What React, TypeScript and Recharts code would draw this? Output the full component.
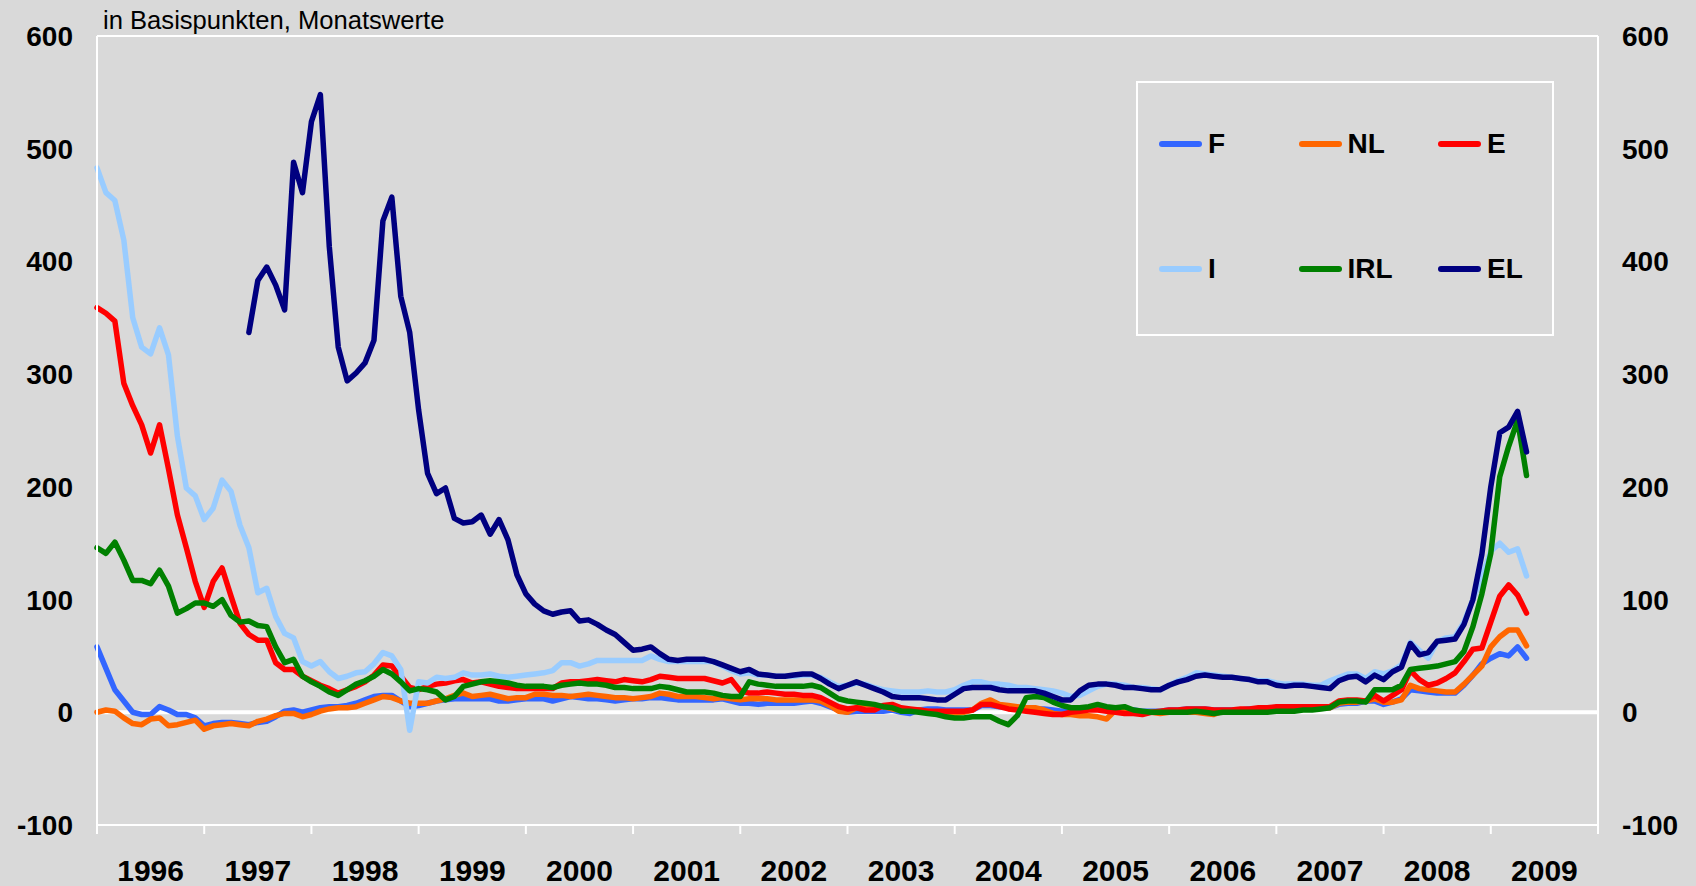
import { LineChart, Line, XAxis, YAxis, CartesianGrid, ReferenceLine } from 'recharts';

// monthly values, Jan 1996 .. May 2009 (161 months)
const F = [
  58, 39, 20, 10, 0, -2, -2, 5, 2, -2,
  -2, -5, -12, -10, -9, -9, -10, -11, -9, -8,
  -4, 1, 2, 0, 2, 4, 5, 5, 6, 8,
  11, 14, 15, 15, 10, 5, 6, 8, 10, 11,
  12, 12, 12, 12, 12, 10, 10, 11, 12, 12,
  12, 10, 12, 14, 13, 12, 12, 11, 10, 11,
  12, 12, 13, 13, 12, 11, 11, 11, 11, 11,
  12, 10, 8, 8, 7, 8, 8, 8, 8, 9,
  10, 8, 5, 2, 0, 1, 1, 1, 1, 2,
  0, -1, 2, 3, 3, 2, 2, 2, 2, 6,
  6, 5, 5, 4, 4, 3, 3, 2, 1, 1,
  2, 3, 3, 3, 3, 2, 2, 1, 1, 1,
  2, 2, 3, 3, 3, 2, 2, 2, 2, 3,
  3, 3, 4, 4, 4, 4, 4, 4, 4, 7,
  8, 8, 10, 10, 7, 9, 12, 20, 19, 18,
  17, 17, 17, 24, 33, 43, 48, 52, 50, 58,
  48,
];

const NL = [
  0, 2, 1, -5, -10, -11, -6, -5, -12, -11,
  -9, -7, -15, -12, -11, -10, -11, -12, -8, -6,
  -3, -1, -1, -4, -2, 1, 3, 4, 4, 5,
  8, 11, 14, 13, 10, 8, 8, 8, 10, 12,
  15, 17, 14, 15, 16, 14, 12, 13, 13, 16,
  16, 15, 15, 14, 15, 16, 15, 14, 13, 13,
  12, 13, 14, 17, 16, 14, 14, 14, 13, 12,
  13, 12, 11, 12, 12, 12, 11, 11, 11, 11,
  11, 10, 6, 1, 0, 4, 7, 6, 5, 3,
  2, 2, 2, 1, 0, -1, -1, 0, 2, 8,
  11, 7, 6, 5, 4, 4, 2, -1, -2, -2,
  -3, -3, -4, -6, 2, 1, 1, 0, 0, -1,
  0, 0, 0, 0, -1, -2, 1, 1, 1, 0,
  1, 1, 2, 2, 4, 4, 4, 4, 4, 8,
  9, 9, 10, 12, 9, 9, 11, 24, 21, 20,
  19, 18, 18, 25, 33, 41, 58, 67, 73, 73,
  59,
];

const E = [
  359, 354, 347, 292, 272, 255, 230, 255, 216, 175,
  146, 116, 93, 116, 128, 103, 79, 69, 64, 64,
  44, 38, 38, 32, 28, 24, 21, 17, 20, 23,
  27, 33, 42, 41, 32, 22, 20, 23, 25, 26,
  28, 29, 26, 27, 25, 23, 22, 21, 21, 21,
  21, 21, 26, 27, 27, 28, 29, 28, 27, 29,
  28, 27, 29, 32, 31, 30, 30, 30, 30, 28,
  26, 29, 19, 17, 17, 18, 17, 16, 16, 15,
  15, 13, 9, 5, 3, 4, 2, 2, 6, 7,
  4, 3, 2, 1, 1, 1, 1, 1, 2, 7,
  7, 5, 3, 2, 1, 0, -1, -2, -2, 0,
  1, 2, 2, 1, 0, -1, -1, -2, 0, 1,
  2, 2, 3, 3, 3, 2, 2, 2, 3, 3,
  4, 4, 5, 5, 5, 5, 5, 5, 5, 10,
  11, 11, 10, 15, 10, 15, 20, 37, 29, 24,
  26, 30, 35, 45, 56, 57, 80, 103, 113, 104,
  88,
];

const I = [
  483, 461, 454, 419, 350, 324, 318, 341, 317, 245,
  199, 192, 171, 181, 206, 196, 166, 146, 106, 110,
  85, 70, 66, 45, 41, 45, 36, 30, 32, 35,
  36, 43, 53, 50, 38, -16, 27, 26, 31, 30,
  31, 35, 33, 33, 34, 32, 31, 32, 33, 34,
  35, 37, 44, 44, 41, 43, 46, 46, 46, 46,
  46, 46, 50, 47, 45, 45, 45, 45, 45, 45,
  41, 37, 34, 35, 33, 33, 32, 32, 32, 33,
  33, 31, 27, 23, 24, 26, 25, 22, 20, 19,
  18, 18, 18, 19, 18, 18, 20, 24, 27, 27,
  25, 25, 24, 22, 22, 21, 20, 19, 17, 14,
  15, 19, 23, 25, 25, 24, 22, 22, 21, 20,
  24, 28, 31, 35, 34, 33, 32, 31, 30, 29,
  28, 28, 26, 25, 25, 25, 24, 24, 28, 31,
  34, 34, 30, 36, 34, 37, 42, 62, 55, 48,
  63, 66, 67, 80, 100, 120, 143, 150, 142, 145,
  121,
];

const IRL = [
  146, 141, 151, 135, 117, 117, 114, 126, 112, 88,
  92, 97, 97, 94, 100, 86, 80, 81, 77, 76,
  58, 44, 47, 32, 27, 23, 18, 15, 20, 25,
  28, 32, 38, 34, 27, 19, 21, 20, 18, 11,
  14, 23, 25, 27, 28, 27, 26, 24, 23, 23,
  23, 22, 24, 25, 26, 25, 25, 24, 22, 22,
  21, 21, 21, 23, 22, 20, 18, 18, 18, 17,
  15, 14, 14, 27, 25, 24, 23, 23, 23, 23,
  24, 22, 17, 12, 10, 9, 8, 7, 5, 4,
  1, 1, 0, -1, -2, -4, -5, -5, -4, -4,
  -4, -8, -11, -3, 13, 14, 13, 9, 6, 4,
  4, 5, 7, 5, 4, 5, 2, 1, 0, 0,
  0, 0, 0, 1, 0, -1, 0, 0, 0, 0,
  0, 0, 1, 1, 1, 2, 2, 3, 4, 9,
  10, 10, 9, 20, 20, 20, 24, 38, 39, 40,
  41, 43, 45, 54, 76, 105, 141, 209, 236, 259,
  210,
];

// EL starts in June 1997
const EL: (number | null)[] = Array(17).fill(null).concat([
  337, 383, 395, 379, 357, 488, 461, 524, 548, 413,
  324, 294, 301, 310, 330, 436, 457, 369, 337, 268,
  212, 194, 199, 172, 168, 169, 175, 158, 171, 153,
  122, 105, 96, 90, 87, 89, 90, 81, 82, 78,
  73, 69, 62, 55, 56, 58, 52, 47, 46, 47,
  47, 47, 45, 42, 39, 36, 38, 34, 33, 32,
  32, 33, 34, 34, 30, 25, 21, 24, 27, 24,
  21, 18, 14, 13, 13, 13, 12, 11, 11, 16,
  21, 22, 22, 22, 20, 19, 19, 19, 19, 17,
  14, 11, 11, 19, 24, 25, 25, 24, 22, 22,
  21, 20, 20, 24, 27, 29, 32, 33, 32, 31,
  31, 30, 29, 27, 27, 24, 23, 24, 24, 23,
  22, 21, 28, 31, 32, 27, 33, 29, 36, 40,
  61, 51, 53, 63, 64, 65, 78, 100, 140, 200,
  248, 253, 267, 231,
]);

const YEARS = ['1996', '1997', '1998', '1999', '2000', '2001', '2002', '2003', '2004', '2005', '2006', '2007', '2008', '2009'];
const Y_TICKS = [-100, 0, 100, 200, 300, 400, 500, 600];

const SERIES = [
  { key: 'F', color: '#3366FF', values: F },
  { key: 'NL', color: '#FF6600', values: NL },
  { key: 'E', color: '#FF0000', values: E },
  { key: 'I', color: '#99CCFF', values: I },
  { key: 'IRL', color: '#008000', values: IRL },
  { key: 'EL', color: '#000080', values: EL },
];

const data = F.map((_, m) => {
  const row: Record<string, number | null> = { m };
  SERIES.forEach((s) => { row[s.key] = s.values[m] ?? null; });
  return row;
});

const W = 1696;
const H = 886;
const LEFT_W = 97;
const RIGHT_W = 98;
const BG = '#D9D9D9';
const FONT = '"Liberation Sans", Arial, sans-serif';
const PLOT_W = W - LEFT_W - RIGHT_W;
const YEAR_PX = PLOT_W / YEARS.length;
const X_TICKS = Array.from({ length: YEARS.length + 1 }, (_, i) => i * 12);

const YearTick = (props: any) => {
  const { x, y, payload } = props;
  const label = YEARS[Math.round(payload.value / 12)];
  if (!label) return <g />;
  return (
    <text x={x + YEAR_PX / 2} y={y} dy="0.71em" textAnchor="middle" fill="#000"
      fontSize={30} fontWeight="bold" fontFamily={FONT}>
      {label}
    </text>
  );
};

const yTick = { fill: '#000', fontSize: 28, fontWeight: 'bold', fontFamily: FONT };

const Legend = () => (
  <div style={{
    position: 'absolute', left: 1136, top: 81, width: 418, height: 255,
    border: '2px solid #fff', boxSizing: 'border-box', background: BG,
  }}>
    {SERIES.map((s, i) => {
      const col = i % 3;
      const row = Math.floor(i / 3);
      const lx = 21 + col * 139.5;
      const ly = 61 + row * 125;
      return (
        <div key={s.key}>
          <div style={{ position: 'absolute', left: lx, top: ly - 3, width: 43, height: 6, borderRadius: 3, background: s.color }} />
          <div style={{
            position: 'absolute', left: lx + 49, top: ly - 16, lineHeight: '32px',
            fontFamily: FONT, fontWeight: 'bold', fontSize: 28, color: '#000',
          }}>{s.key}</div>
        </div>
      );
    })}
  </div>
);

export default function App() {
  return (
    <div style={{ position: 'absolute', left: 0, top: 0, width: W, height: H, background: BG, overflow: 'hidden' }}>
      <div style={{ position: 'absolute', left: 103, top: 6, fontFamily: FONT, fontSize: 25.6, lineHeight: '28px', color: '#000' }}>
        in Basispunkten, Monatswerte
      </div>
      <LineChart width={W} height={H} data={data} margin={{ top: 36, right: 0, bottom: 0, left: 0 }}>
        <CartesianGrid vertical={false} stroke="#fff" strokeWidth={2} />
        <XAxis dataKey="m" type="number" domain={[0, 168]} ticks={X_TICKS} interval={0}
          height={61} tick={<YearTick />} tickSize={9} tickMargin={26}
          axisLine={{ stroke: '#fff', strokeWidth: 2 }} tickLine={{ stroke: '#fff', strokeWidth: 2 }} />
        <YAxis yAxisId="left" domain={[-100, 600]} ticks={Y_TICKS} interval={0} allowDataOverflow
          width={LEFT_W} tick={yTick} tickLine={false} tickSize={0} tickMargin={24}
          axisLine={{ stroke: '#fff', strokeWidth: 2 }} />
        <YAxis yAxisId="right" orientation="right" domain={[-100, 600]} ticks={Y_TICKS} interval={0} allowDataOverflow
          width={RIGHT_W} tick={yTick} tickLine={false} tickSize={0} tickMargin={24}
          axisLine={{ stroke: '#fff', strokeWidth: 2 }} />
        <ReferenceLine yAxisId="left" y={0} stroke="#fff" strokeWidth={4} />
        {SERIES.map((s) => (
          <Line key={s.key} yAxisId="left" dataKey={s.key} type="linear" stroke={s.color}
            strokeWidth={5.5} strokeLinejoin="round" strokeLinecap="round"
            dot={false} activeDot={false} connectNulls={false} isAnimationActive={false} />
        ))}
      </LineChart>
      <Legend />
    </div>
  );
}
